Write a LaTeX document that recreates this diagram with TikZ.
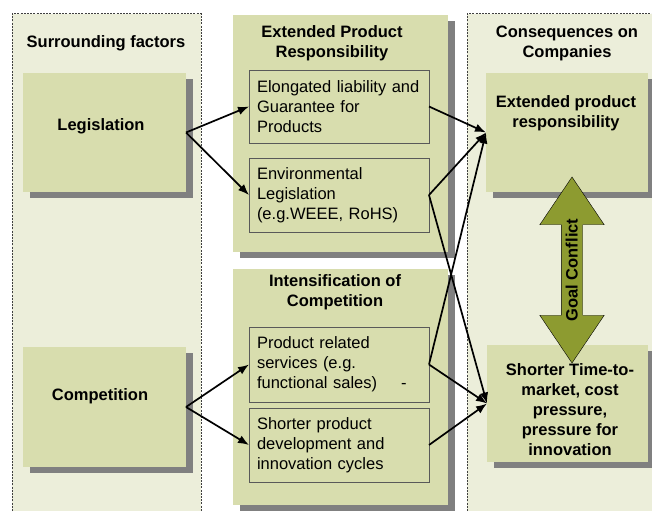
\documentclass[tikz,border=0pt]{standalone}
\usepackage{fontspec}
\setmainfont{Liberation Sans}
\usepackage{tikz}
\usetikzlibrary{shapes}
\usetikzlibrary{shapes.arrows}
\usetikzlibrary{shadows}
\usetikzlibrary{arrows.meta}
\usepackage{xcolor}
\definecolor{panelbg}{RGB}{236,238,218}
\definecolor{boxbg}{RGB}{216,221,174}
\definecolor{conflict}{RGB}{141,155,48}
\tikzset{
  txt/.style={font=\fontsize{16.5}{20}\selectfont, inner sep=0pt, align=center},
  headtxt/.style={txt, font=\bfseries\fontsize{16.5}{20}\selectfont},
  bigbox/.style={fill=boxbg, outer sep=0pt, inner sep=0pt,
    drop shadow={shadow xshift=7pt, shadow yshift=-6pt, fill=black!50, opacity=1}},
  itembox/.style={draw=black!65, fill=boxbg, outer sep=0pt, inner xsep=8pt,
    text width=164pt, minimum height=73pt, align=left, font=\fontsize{16.5}{20}\selectfont},
  panelline/.style={draw=black!75, line width=1pt, dash pattern=on 2pt off 1.2pt},
  link/.style={-{Latex[length=11pt,width=8.5pt]}, line width=1.7pt},
}
\begin{document}
\begin{tikzpicture}[x=1pt,y=-1pt]
        \useasboundingbox (0,0) rectangle (652,511);
        \fill[panelbg] (12,14) rectangle (201,511);
        \fill[panelbg] (467,14) rectangle (652,511);
        \draw[panelline] (12,511) -- (12,14) -- (201,14) -- (201,511);
        \draw[panelline] (467,511) -- (467,14) -- (652,14);
        \node[headtxt] (surr) at (106,43) {Surrounding factors};
        \node[headtxt] (cons) at (567,43) {Consequences on\\Companies};

        \node[bigbox, minimum width=163pt, minimum height=119pt] (legis) at (104.5,132.5) {};
        \node[bigbox, minimum width=163pt, minimum height=120pt] (comp) at (104.5,407) {};
        \node[headtxt] (legist) at (101,126) {Legislation};
        \node[headtxt] (compt) at (100,396) {Competition};

        \node[bigbox, minimum width=215pt, minimum height=237pt] (epr) at (340.5,133.5) {};
        \node[bigbox, minimum width=215pt, minimum height=236pt] (ioc) at (340.5,387) {};
        \node[headtxt] (eprt) at (332,43) {Extended Product\\Responsibility};
        \node[headtxt] (ioct) at (335,292) {Intensification of\\Competition};
        \node[itembox] (liab) at (339,106.5) {Elongated liability and\\Guarantee for\\Products};
        \node[itembox, minimum height=74pt] (envleg) at (339,195) {Environmental\\Legislation\\(e.g.WEEE, RoHS)};
        \node[itembox, minimum height=75pt] (serv) at (339,364.5) {Product related\\services (e.g.\\functional sales)\hspace{24pt}-};
        \node[itembox, minimum height=74pt] (cycl) at (339,445) {Shorter product\\development and\\innovation cycles};

        \node[bigbox, minimum width=162pt, minimum height=119pt] (resp) at (567,132.5) {};
        \node[bigbox, minimum width=161pt, minimum height=117pt] (ttm) at (567.5,403.5) {};
        \node[headtxt] (respt) at (566,113) {Extended product\\responsibility};
        \node[headtxt] (ttmt) at (570,410) {Shorter Time-to-\\market, cost\\pressure,\\pressure for\\innovation};

        \draw[link] (legis.east) -- (liab.west);
        \draw[link] (legis.east) -- (envleg.west);
        \draw[link] (comp.east) -- (serv.west);
        \draw[link] (comp.east) -- (cycl.west);
        \draw[link] (liab.east) -- (resp.west);
        \draw[link] (envleg.east) -- (resp.west);
        \draw[link] (serv.east) -- (resp.west);
        \draw[link] (envleg.east) -- (ttm.west);
        \draw[link] (serv.east) -- (ttm.west);
        \draw[link] (cycl.east) -- (ttm.west);

        \node[double arrow, draw=black, fill=conflict, rotate=90, minimum height=186pt,
          double arrow head extend=21.5pt, double arrow tip angle=68, inner xsep=0pt,
          inner ysep=4pt, text height=12pt, text depth=1pt,
          font=\bfseries\fontsize{16.5}{20}\selectfont] (goal) at (572,270) {Goal Conflict};
      \end{tikzpicture}
\end{document}
